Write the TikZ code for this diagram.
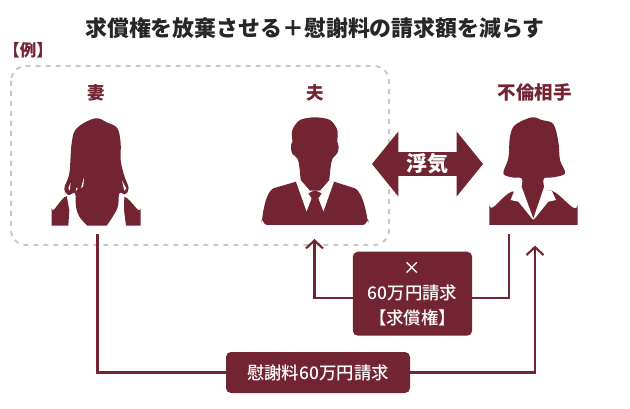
\documentclass[tikz,border=0pt]{standalone}
\usepackage{fontspec}
\setmainfont{Noto Sans CJK JP}
\newfontfamily\mediumface{Noto Sans CJK JP Medium}
\usetikzlibrary{arrows.meta,shapes.arrows}
\definecolor{wine}{HTML}{722433}
\definecolor{framegray}{HTML}{C9C9C9}
\tikzset{
    person/.style={fill=wine,draw=none},
    cut/.style={fill=white,draw=none},
    personname/.style={text=wine,font=\fontsize{17.5}{20}\selectfont\bfseries,inner sep=0pt},
    claimbox/.style={fill=wine,rounded corners=5pt,text=white,align=center,inner sep=0pt,
        font=\fontsize{17.4}{25}\selectfont\mediumface},
    link/.style={wine,line width=2.1pt},
    linktip/.style={link,-{Straight Barb[length=8pt,width=17pt,line width=2.1pt]}},
}
\begin{document}
\begin{tikzpicture}[x=1pt,y=-1pt]
    \useasboundingbox (0,0) rectangle (630,409);
    \node[inner sep=0pt,text=black!85,font=\fontsize{21.9}{26}\selectfont\bfseries] (title) at (315,28) {求償権を放棄させる＋慰謝料の請求額を減らす};
    \node[inner sep=0pt,text=wine,font=\fontsize{16.5}{18}\selectfont\bfseries] (example) at (28,50) {【例】};
    \draw[framegray,line width=2pt,dash pattern=on 5pt off 5pt,rounded corners=15pt] (11,66) rectangle (389,245);
    %жена
    \begin{scope}[shift={(0,60)},scale=1/3]
        \fill[person] plot[smooth,tension=0.6] coordinates {(262,497) (238,470) (228,440) (225,400) (205,405) (193,385) (208,340) (215,250) (230,205) (285,175) (320,187) (352,205) (362,250) (362,300) (372,345) (386,385) (375,403) (358,400) (352,445) (320,497)} -- cycle;
        \fill[person] (155,497) -- (155,445) to[out=-80,in=200] (200,408) -- (208,450) -- (205,497) -- cycle;
        \fill[person] (422,497) -- (422,445) to[out=-100,in=-20] (373,410) -- (372,450) -- (378,497) -- cycle;
        \fill[cut] (252,352) -- (243,385) -- (250,378) -- cycle;
        \fill[cut] (230,382) -- (227,394) -- (233,386) -- cycle;
        \fill[cut] (212,368) -- (205,384) -- (209,392) -- cycle;
        \fill[cut] (366,362) -- (379,385) -- (373,392) -- cycle;
    \end{scope}
    %муж
    \begin{scope}[shift={(240,70)},scale=1/3]
        \fill[person] (65,450) to[out=-90,in=-150] (100,355) -- (168,335) -- (282,335) -- (345,355) to[out=-30,in=-90] (385,450) to[out=90,in=0] (370,465) -- (80,465) to[out=180,in=90] cycle;
        \fill[cut] (168,335) -- (182,325) -- (268,325) -- (282,335) -- (250,425) -- (225,370) -- (200,425) -- cycle;
        \fill[person] plot[smooth,tension=0.5] coordinates {(182,330) (178,290) (172,265) (156,250) (153,225) (157,215) (157,180) (180,150) (225,142) (270,150) (292,180) (292,215) (296,230) (292,250) (278,265) (272,290) (268,330)} -- (240,362) -- (210,362) -- cycle;
        \fill[person] (205,370) -- (222,362) -- (228,362) -- (245,370) -- (235,385) -- (250,425) -- (225,452) -- (200,425) -- (215,385) -- cycle;
    \end{scope}
    %другая
    \begin{scope}[shift={(470,70)},scale=1/3]
        \fill[person] (58,465) -- (58,405) to[out=-80,in=200] (125,365) -- (245,362) to[out=-20,in=-100] (323,405) -- (323,465) -- cycle;
        \fill[cut] (133,362) -- (122,390) -- (145,395) -- (188,448) -- (192,448) -- (235,395) -- (258,390) -- (245,362) -- cycle;
        \fill[person] plot[smooth,tension=0.55] coordinates {(155,350) (155,325) (125,322) (100,310) (115,265) (120,200) (135,165) (185,142) (215,150) (250,162) (265,215) (270,270) (285,310) (250,322) (222,325) (222,350)} -- (190,445) -- cycle;
    \end{scope}
    \node[personname] (wife) at (96,92.7) {妻};
    \node[personname] (husband) at (315,92.7) {夫};
    \node[personname,font=\fontsize{18.5}{20}\selectfont\bfseries] (lover) at (534.5,92.7) {不倫相手};
    \node[double arrow,fill=wine,text=white,inner sep=0pt,minimum height=111pt,minimum width=65pt,
        double arrow head extend=18pt,double arrow tip angle=102,
        font=\fontsize{21}{22}\selectfont\bfseries] (affair) at (427.5,164) {浮気};
    \node[claimbox,minimum width=119.3pt,minimum height=84pt] (recourse) at (412.5,293.7) {×\\60万円請求\\【求償権】};
    \node[claimbox,minimum width=184pt,minimum height=41pt] (claim) at (318,372.5) {慰謝料60万円請求};
    \coordinate (wifefoot) at (97.5,234);
    \coordinate (husbandtip) at (314.5,239);
    \coordinate (loverfoot) at (509.3,234);
    \coordinate (lovertip) at (535,245.6);
    \draw[linktip] ([yshift=-4pt]recourse.west) -| (husbandtip);
    \draw[link] ([yshift=-4pt]recourse.east) -| (loverfoot);
    \draw[link] (wifefoot) |- (claim.west);
    \draw[linktip] (claim.east) -| (lovertip);
\end{tikzpicture}
\end{document}
